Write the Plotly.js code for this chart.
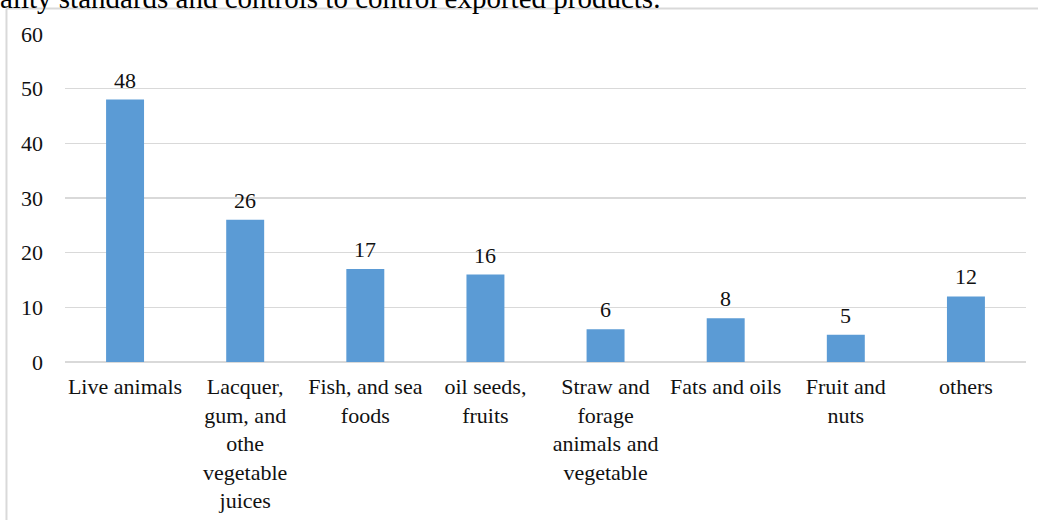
<!DOCTYPE html>
<html>
<head>
<meta charset="utf-8">
<script src="https://cdn.plot.ly/plotly-3.0.1.min.js"></script>
<style>
html,body{margin:0;padding:0;background:#fff;}
#chart{width:1038px;height:520px;}
</style>
</head>
<body>
<div id="chart"></div>
<script>
const categories = ["Live animals","Lacquer,<br>gum, and<br>othe<br>vegetable<br>juices","Fish, and sea<br>foods","oil seeds,<br>fruits","Straw and<br>forage<br>animals and<br>vegetable","Fats and oils","Fruit and<br>nuts","others"];
const values = [48, 26, 17, 16, 6, 8, 5, 12];
const yTicks = [0, 10, 20, 30, 40, 50, 60];
const headerText = "ality standards and controls to control exported products.";

const FONT = "'Times New Roman', 'Liberation Serif', 'DejaVu Serif', serif";
const TXT = "#111111";

const labelAnnotations = categories.map((c, i) => ({
  x: c, y: values[i], xref: "x", yref: "y",
  text: String(values[i]), showarrow: false,
  yanchor: "bottom", yshift: 5,
  font: {family: FONT, size: 22, color: TXT}
}));

const layout = {
  width: 1038, height: 520,
  margin: {l: 65, r: 12, t: 34, b: 158, pad: 0},
  paper_bgcolor: "#ffffff", plot_bgcolor: "#ffffff",
  showlegend: false,
  bargap: 0.684,
  font: {family: FONT, size: 22, color: TXT},
  xaxis: {
    type: "category", categoryorder: "array", categoryarray: categories,
    showgrid: false, zeroline: false, showline: false,
    ticks: "", ticklabelstandoff: 9,
    tickfont: {family: FONT, size: 22, color: TXT},
    fixedrange: true
  },
  yaxis: {
    range: [0, 60], tickvals: yTicks, ticktext: yTicks.map(String),
    showgrid: true, gridcolor: "#d9d9d9", gridwidth: 1.5,
    zeroline: true, zerolinecolor: "#d9d9d9", zerolinewidth: 1.5,
    showline: false, ticks: "", ticklabelstandoff: 21,
    tickfont: {family: FONT, size: 22, color: TXT},
    fixedrange: true
  },
  shapes: [
    {type: "line", xref: "paper", yref: "paper", x0: -0.0609, x1: -0.0609, y0: -0.55, y1: 1.0777,
     line: {color: "#d9d9d9", width: 2}},
    {type: "line", xref: "paper", yref: "paper", x0: -0.0609, x1: 1.03, y0: 1.0777, y1: 1.0777,
     line: {color: "#d9d9d9", width: 2}}
  ],
  annotations: labelAnnotations.concat([{
    xref: "paper", yref: "paper", x: -0.07, y: 1.0543,
    xanchor: "left", yanchor: "bottom", showarrow: false,
    text: headerText, font: {family: FONT, size: 29, color: "#000"}
  }])
};

const data = [{
  type: "bar", x: categories, y: values,
  marker: {color: "#5b9bd5", line: {color: "#ffffff", width: 0}},
  hoverinfo: "none"
}];

Plotly.newPlot("chart", data, layout, {displayModeBar: false, staticPlot: true});
</script>
</body>
</html>
